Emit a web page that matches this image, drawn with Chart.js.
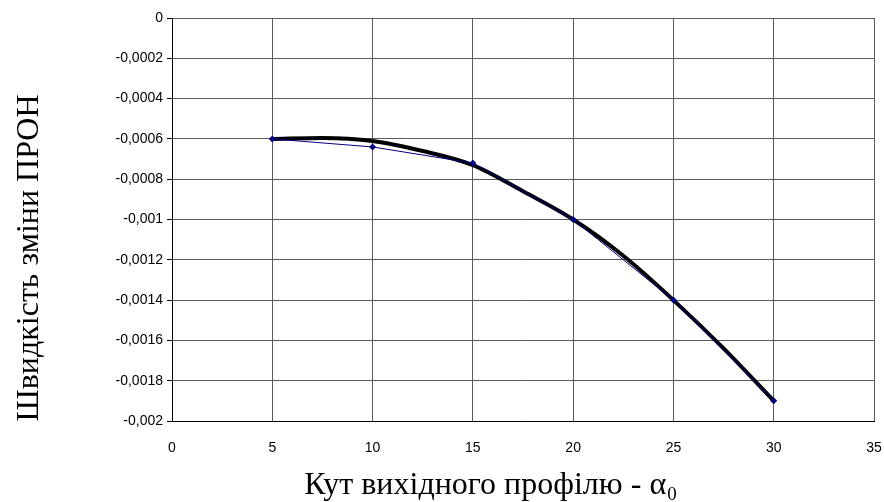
<!DOCTYPE html>
<html>
<head>
<meta charset="utf-8">
<script src="https://cdn.jsdelivr.net/npm/chart.js@4"></script>
<style>
  html, body { margin: 0; padding: 0; background: #fff; }
  #wrap { width: 884px; height: 502px; }
</style>
</head>
<body>
<div id="wrap"><canvas id="speedChart" width="884" height="502"></canvas></div>
<script>
// measured points
const angles = [5, 10, 15, 20, 25, 30];
const speeds = [-0.0006, -0.00064, -0.00072, -0.001, -0.0014, -0.0019];

// smoothed trend curve
const trendAngles = [5, 7.5, 10, 12.5, 15, 17.5, 20, 22.5, 25, 27.5, 30];
const trendSpeeds = [-0.0006, -0.000595, -0.00061, -0.00066, -0.00073, -0.00086, -0.001, -0.00118, -0.0014, -0.00164, -0.0019];

const xTicks = [0, 5, 10, 15, 20, 25, 30, 35];

const yTitle = 'Швидкість зміни ПРОН';
const xTitle = 'Кут вихідного профілю - ';

const serif = '"Liberation Serif", "Times New Roman", serif';
const sans = '"Liberation Sans", Arial, sans-serif';

function toPoints(xs, ys) {
    return xs.map((x, i) => ({ x: x, y: ys[i] }));
}

// axis titles drawn by hand so they sit where the layout needs them
const axisTitles = {
    id: 'axisTitles',
    afterDraw(chart) {
        const c = chart.ctx;
        c.save();
        c.fillStyle = '#000';
        c.font = '32px ' + serif;
        c.textBaseline = 'middle';
        c.textAlign = 'center';

        c.save();
        c.translate(30, 258);
        c.rotate(-Math.PI / 2);
        c.fillText(yTitle, 0, 0);
        c.restore();

        // x title with alpha and subscript 0
        c.textAlign = 'left';
        c.textBaseline = 'alphabetic';
        const w1 = c.measureText(xTitle).width;
        const wa = c.measureText('α').width;
        c.font = '19px ' + serif;
        const w0 = c.measureText('0').width;
        let x = 490 - (w1 + wa + w0) / 2;
        c.font = '32px ' + serif;
        c.fillText(xTitle, x, 494);
        x += w1;
        c.fillText('α', x, 494);
        x += wa + 1;
        c.font = '19px ' + serif;
        c.fillText('0', x, 500);
        c.restore();
    }
};

const ctx = document.getElementById('speedChart').getContext('2d');
new Chart(ctx, {
    type: 'scatter',
    data: {
        datasets: [{
            label: 'points',
            data: toPoints(angles, speeds),
            showLine: true,
            borderColor: '#000080',
            backgroundColor: '#000080',
            borderWidth: 1,
            pointStyle: 'rectRot',
            pointRadius: 3.5,
            pointBorderWidth: 0,
            order: 0
        }, {
            label: 'trend',
            data: toPoints(trendAngles, trendSpeeds),
            showLine: true,
            borderColor: '#000',
            borderWidth: 4,
            pointRadius: 0,
            cubicInterpolationMode: 'monotone',
            order: 1
        }]
    },
    options: {
        responsive: false,
        animation: false,
        layout: { padding: { top: 18, right: 10, left: 0, bottom: 0 } },
        plugins: {
            legend: { display: false },
            tooltip: { enabled: false }
        },
        scales: {
            x: {
                type: 'linear',
                min: 0,
                max: 35,
                afterBuildTicks(axis) {
                    axis.ticks = xTicks.map(v => ({ value: v }));
                },
                afterFit(axis) {
                    axis.height = 81;
                    axis.paddingLeft = 0;
                    axis.paddingRight = 0;
                },
                ticks: {
                    color: '#000',
                    padding: 19,
                    font: { family: sans, size: 14 }
                },
                grid: { color: '#5a5a5a', lineWidth: 1, drawTicks: false },
                border: { color: '#000', width: 1 }
            },
            y: {
                min: -0.002,
                max: 0,
                afterFit(axis) { axis.width = 172; },
                ticks: {
                    stepSize: 0.0002,
                    color: '#000',
                    padding: 4,
                    font: { family: sans, size: 14 },
                    callback: v => String(Math.round(v * 10000) / 10000).replace('.', ',')
                },
                grid: { color: '#5a5a5a', lineWidth: 1, tickLength: 5, tickColor: '#000' },
                border: { color: '#000', width: 1 }
            }
        }
    },
    plugins: [axisTitles]
});
</script>
</body>
</html>
